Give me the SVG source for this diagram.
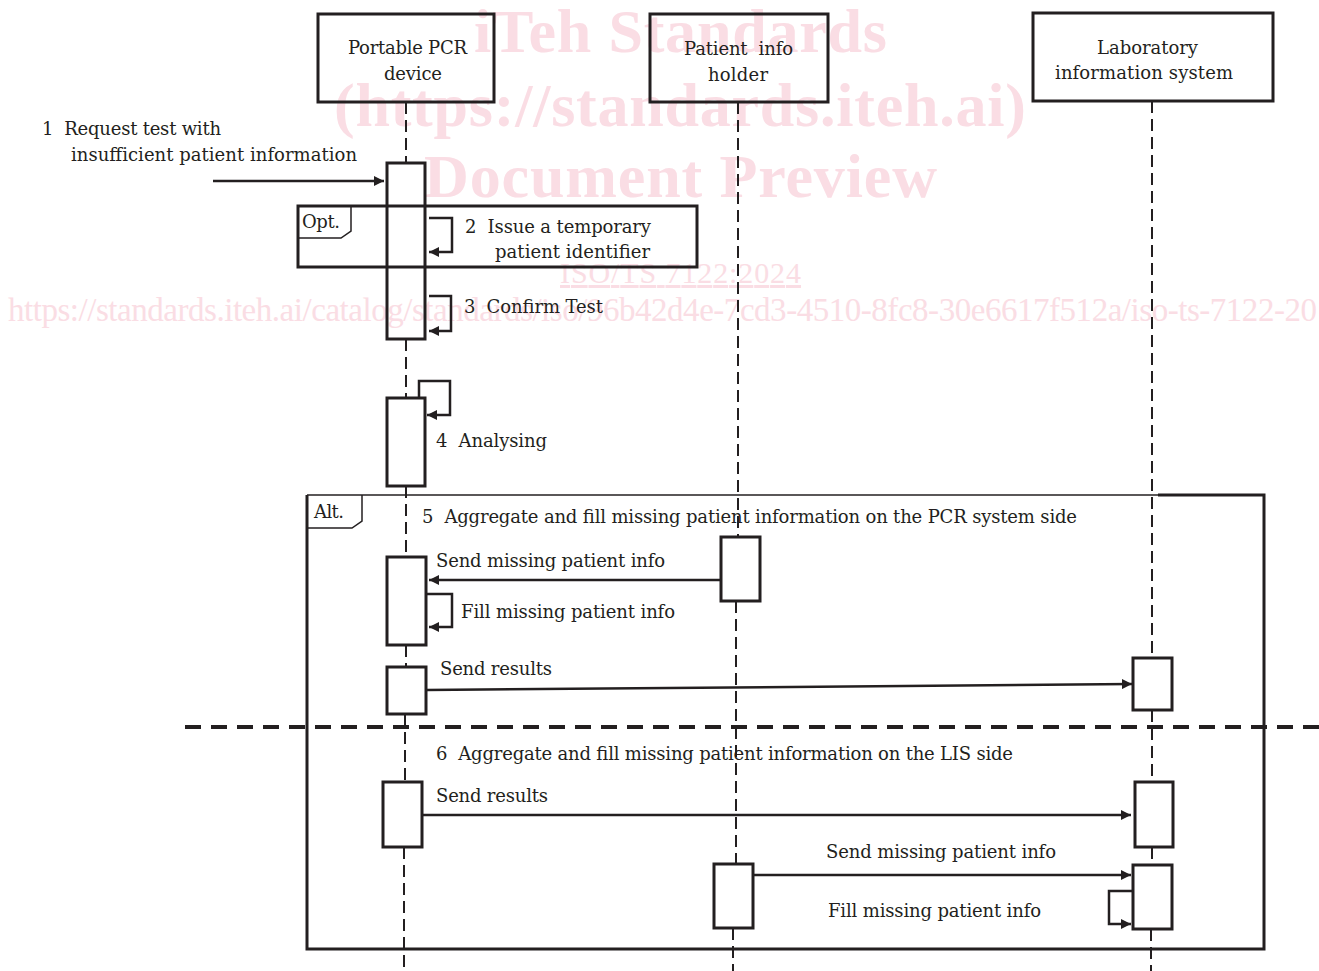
<svg xmlns="http://www.w3.org/2000/svg" width="1319" height="971" viewBox="0 0 1319 971">
<style>
  .bg{fill:#ffffff}
  .box{fill:none;stroke:#231f20;stroke-width:3}
  .act{fill:none;stroke:#231f20;stroke-width:3}
  .life{fill:none;stroke:#231f20;stroke-width:2;stroke-dasharray:12 6}
  .msg{fill:none;stroke:#231f20;stroke-width:2.5}
  .frame{fill:none;stroke:#231f20;stroke-width:3}
  .thin{fill:none;stroke:#231f20;stroke-width:1.5}
  .sep{fill:none;stroke:#231f20;stroke-width:4;stroke-dasharray:16 10}
  .t{font-family:"DejaVu Serif","Liberation Serif",serif;font-size:18px;fill:#231f20}
  .wm{font-family:"Liberation Serif",serif;fill:#fadde4}
  .wmb{font-weight:bold;font-size:62px}
</style>
<defs>
  <marker id="ah" markerUnits="userSpaceOnUse" markerWidth="11" markerHeight="10" refX="10" refY="5" orient="auto">
    <path d="M0,0 L10,5 L0,10 Z" fill="#231f20"/>
  </marker>
</defs>
<rect class="bg" x="0" y="0" width="1319" height="971"/>

<g id="watermark">
  <text class="wm wmb" x="474" y="52" textLength="413">iTeh Standards</text>
  <text class="wm wmb" x="334" y="126" textLength="692">(https://standards.iteh.ai)</text>
  <text class="wm wmb" x="424" y="197" textLength="513">Document Preview</text>
  <text class="wm" x="560" y="283" font-size="30" textLength="241" text-decoration="underline">ISO/TS 7122:2024</text>
  <text class="wm" x="8" y="321" font-size="33" textLength="1309">https://standards.iteh.ai/catalog/standards/iso/96b42d4e-7cd3-4510-8fc8-30e6617f512a/iso-ts-7122-20</text>
</g>

<g id="lifelines">
  <path class="life" d="M406 102 V163 M406 339 V398 M406 486 V557 M406 645 V667 M405 714 V782 M404 847 V971"/>
  <path class="life" d="M738 102 V537 M736 601 V864 M733 928 V971"/>
  <path class="life" d="M1152 101 V658 M1152 710 V782 M1152 847 V865 M1151 929 V971"/>
</g>

<g id="node-pcr">
  <rect class="box" x="318" y="14" width="176" height="88"/>
  <text class="t" x="348" y="54" textLength="119">Portable PCR</text>
  <text class="t" x="384" y="80" textLength="58">device</text>
</g>
<g id="node-patient">
  <rect class="box" x="650" y="14" width="178" height="88"/>
  <text class="t" x="684" y="55" textLength="109" xml:space="preserve">Patient  info</text>
  <text class="t" x="708" y="81" textLength="60">holder</text>
</g>
<g id="node-lis">
  <rect class="box" x="1033" y="13" width="240" height="88"/>
  <text class="t" x="1097" y="54" textLength="101">Laboratory</text>
  <text class="t" x="1055" y="79" textLength="178">information system</text>
</g>

<g id="activations">
  <rect id="act-pcr-1" class="act" x="387" y="163" width="38" height="176"/>
  <rect id="act-pcr-2" class="act" x="387" y="398" width="38" height="88"/>
  <rect id="act-pcr-3" class="act" x="387" y="557" width="39" height="88"/>
  <rect id="act-patient-1" class="act" x="721" y="537" width="39" height="64"/>
  <rect id="act-pcr-4" class="act" x="387" y="667" width="39" height="47"/>
  <rect id="act-lis-1" class="act" x="1133" y="658" width="39" height="52"/>
  <rect id="act-pcr-5" class="act" x="383" y="782" width="39" height="65"/>
  <rect id="act-lis-2" class="act" x="1135" y="782" width="38" height="65"/>
  <rect id="act-patient-2" class="act" x="714" y="864" width="39" height="64"/>
  <rect id="act-lis-3" class="act" x="1133" y="865" width="39" height="64"/>
</g>

<g id="frame-opt">
  <rect class="frame" x="298" y="206" width="399" height="61"/>
  <path class="thin" d="M298 238 H341 L351 231 V206"/>
  <text class="t" x="302" y="228" textLength="38">Opt.</text>
</g>

<g id="frame-alt">
  <path class="frame" d="M307 495 V949 H1264 V495 H1158"/>
  <path class="thin" d="M307 495 H1158"/>
  <path class="thin" d="M307 528 H352 L362 521 V495"/>
  <text class="t" x="314" y="518" textLength="30">Alt.</text>
  <path class="sep" d="M185 727 H1319"/>
</g>

<g id="connectors">
  <path class="msg" d="M213 181 H384" marker-end="url(#ah)"/>
  <path class="msg" d="M429 218 H452 V252 H429" marker-end="url(#ah)"/>
  <path class="msg" d="M429 296 H451 V331 H429" marker-end="url(#ah)"/>
  <path class="msg" d="M419 398 V381 H450 V415 H427" marker-end="url(#ah)"/>
  <path class="msg" d="M721 580 H429" marker-end="url(#ah)"/>
  <path class="msg" d="M427 594 H452 V627 H429" marker-end="url(#ah)"/>
  <path class="msg" d="M426 690 L1132 684" marker-end="url(#ah)"/>
  <path class="msg" d="M422 815 H1131" marker-end="url(#ah)"/>
  <path class="msg" d="M753 875 H1131" marker-end="url(#ah)"/>
  <path class="msg" d="M1133 891 H1109 V924 H1131" marker-end="url(#ah)"/>
</g>

<g id="labels">
  <text class="t" x="42" y="135" textLength="179" xml:space="preserve">1  Request test with</text>
  <text class="t" x="71" y="161" textLength="286">insufficient patient information</text>
  <text class="t" x="465" y="233" textLength="186" xml:space="preserve">2  Issue a temporary</text>
  <text class="t" x="495" y="258" textLength="155">patient identifier</text>
  <text class="t" x="464" y="313" textLength="139" xml:space="preserve">3  Confirm Test</text>
  <text class="t" x="436" y="447" textLength="111" xml:space="preserve">4  Analysing</text>
  <text class="t" x="422" y="523" textLength="655" xml:space="preserve">5  Aggregate and fill missing patient information on the PCR system side</text>
  <text class="t" x="436" y="567" textLength="229">Send missing patient info</text>
  <text class="t" x="461" y="618" textLength="214">Fill missing patient info</text>
  <text class="t" x="440" y="675" textLength="112">Send results</text>
  <text class="t" x="436" y="760" textLength="577" xml:space="preserve">6  Aggregate and fill missing patient information on the LIS side</text>
  <text class="t" x="436" y="802" textLength="112">Send results</text>
  <text class="t" x="826" y="858" textLength="230">Send missing patient info</text>
  <text class="t" x="828" y="917" textLength="213">Fill missing patient info</text>
</g>
</svg>
